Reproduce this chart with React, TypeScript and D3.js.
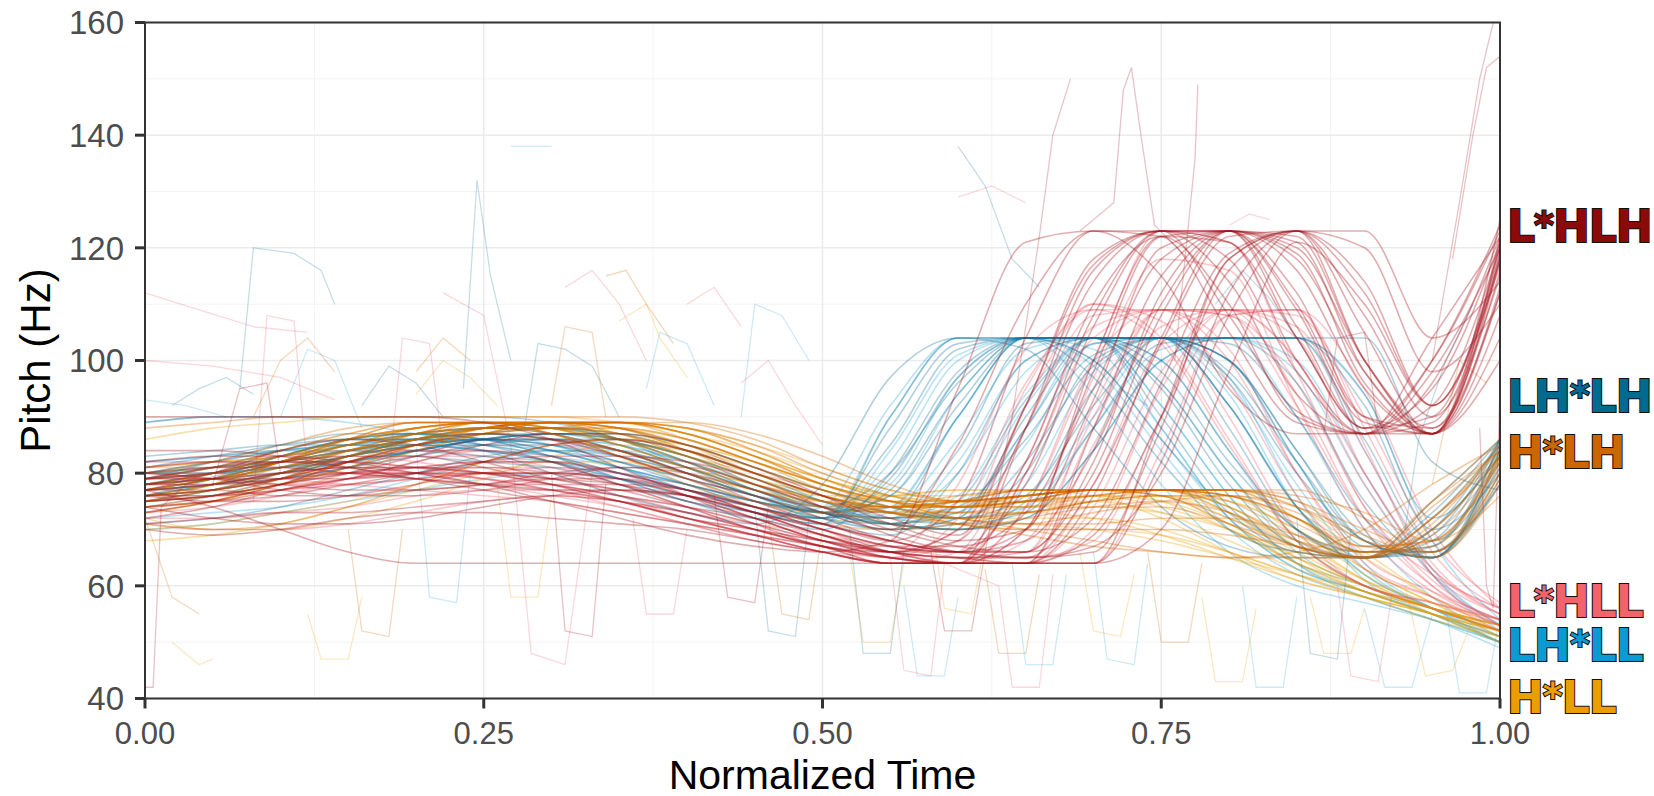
import { useEffect, useRef } from "react"
import * as d3 from "d3"

// normalized time grid shared by all contours
const timeGrid = [0, 0.05, 0.1, 0.15, 0.2, 0.25, 0.3, 0.35, 0.4, 0.45, 0.5, 0.55, 0.6, 0.65, 0.7, 0.75, 0.8, 0.85, 0.9, 0.95, 1]

const yTicks = [40, 60, 80, 100, 120, 140, 160]
const yMinor = [50, 70, 90, 110, 130, 150]
const xTicks = [0, 0.25, 0.5, 0.75, 1]
const xMinor = [0.125, 0.375, 0.625, 0.875]
const xTickLabels = ["0.00", "0.25", "0.50", "0.75", "1.00"]

const labels = ["L*HLH", "LH*LH", "H*LH", "L*HLL", "LH*LL", "H*LL"]

// pitch (Hz) per contour, one value per timeGrid point
const contoursLHLH = [
  [78, 79, 80, 81, 80, 78, 75, 72, 69, 67, 66, 68, 95, 121, 123, 115, 95, 87, 87, 104, 122],
  [76, 77, 79, 82, 84, 84, 82, 78, 74, 70, 67, 66, 70, 92, 118, 123, 121, 104, 88, 95, 121],
  [80, 81, 81, 80, 79, 78, 77, 75, 72, 69, 66, 64, 64, 80, 108, 123, 123, 110, 90, 88, 116],
  [75, 76, 78, 80, 83, 86, 86, 84, 80, 75, 71, 68, 66, 68, 84, 110, 123, 122, 100, 88, 112],
  [77, 77, 76, 76, 77, 78, 80, 81, 80, 77, 73, 70, 85, 110, 123, 122, 105, 89, 87, 98, 120],
  [79, 80, 82, 83, 83, 81, 78, 75, 72, 70, 68, 67, 67, 73, 95, 118, 123, 116, 95, 87, 108],
  [74, 75, 76, 78, 80, 82, 83, 83, 82, 79, 74, 69, 66, 65, 78, 103, 122, 123, 108, 90, 115],
  [78, 79, 79, 79, 80, 82, 85, 86, 84, 80, 76, 72, 69, 92, 117, 123, 114, 94, 87, 89, 118],
  [81, 82, 82, 81, 79, 77, 75, 73, 71, 69, 67, 65, 64, 64, 88, 115, 123, 118, 98, 87, 122],
  [76, 76, 77, 79, 82, 85, 87, 87, 85, 81, 76, 71, 68, 70, 100, 122, 121, 100, 87, 100, 124],
  [77, 78, 80, 81, 81, 80, 78, 76, 74, 72, 69, 66, 65, 64, 64, 70, 98, 121, 110, 92, 118],
  [79, 79, 78, 77, 77, 78, 79, 79, 77, 74, 71, 68, 75, 104, 123, 123, 108, 91, 87, 92, 120],
  [75, 76, 78, 80, 81, 81, 80, 78, 76, 73, 70, 67, 66, 66, 72, 96, 119, 123, 112, 92, 119],
  [78, 78, 79, 80, 81, 82, 82, 80, 77, 73, 69, 66, 68, 88, 114, 123, 123, 104, 88, 100, 123],
  [90, 90, 90, 90, 90, 89, 86, 81, 76, 71, 67, 65, 64, 64, 64, 82, 112, 123, 105, 87, 113],
  [71, 72, 73, 73, 74, 75, 76, 75, 73, 70, 67, 64, 64, 64, 76, 104, 123, 119, 96, 87, 121],
  [73, 75, 78, 82, 85, 87, 86, 83, 79, 76, 72, 68, 66, 65, 66, 88, 118, 123, 114, 92, 117],
  [80, 79, 77, 76, 76, 77, 79, 81, 81, 78, 74, 70, 67, 66, 82, 112, 123, 120, 100, 87, 104],
  [77, 80, 84, 86, 85, 82, 79, 77, 76, 74, 71, 68, 66, 78, 106, 123, 123, 112, 90, 87, 119],
  [82, 83, 83, 82, 80, 78, 77, 77, 76, 73, 70, 66, 64, 64, 69, 90, 116, 123, 120, 98, 110],
  [76, 75, 75, 76, 78, 80, 80, 79, 76, 72, 68, 65, 64, 88, 116, 123, 118, 98, 87, 87, 125],
  [79, 81, 82, 82, 81, 80, 79, 78, 75, 72, 68, 66, 66, 70, 93, 120, 123, 109, 89, 87, 100],
  [72, 74, 77, 79, 80, 80, 79, 77, 74, 71, 68, 66, 65, 65, 67, 80, 108, 123, 123, 104, 114],
  [84, 84, 83, 81, 79, 78, 78, 78, 77, 74, 70, 67, 66, 82, 110, 122, 110, 90, 87, 96, 122],
  [70, 69, 70, 72, 73, 73, 72, 71, 70, 68, 66, 64, 64, 70, 98, 122, 123, 106, 88, 90, 120],
  [74, 72, 71, 71, 72, 74, 76, 77, 76, 73, 69, 66, 65, 66, 80, 108, 123, 121, 98, 87, 112],
  [77, 74, 70, 66, 64, 64, 64, 64, 64, 64, 64, 64, 64, 64, 64, 90, 118, 123, 100, 87, 118],
]

const contoursLHLL = [
  [77, 78, 79, 80, 80, 79, 77, 74, 71, 68, 66, 65, 64, 80, 104, 109, 108, 92, 72, 62, 56],
  [79, 80, 81, 82, 83, 83, 81, 78, 74, 70, 67, 65, 72, 96, 109, 109, 100, 80, 65, 59, 54],
  [75, 76, 77, 78, 79, 80, 80, 79, 77, 74, 70, 67, 65, 64, 85, 106, 109, 108, 90, 68, 57],
  [80, 80, 79, 78, 77, 76, 75, 73, 71, 69, 67, 65, 64, 64, 70, 95, 109, 104, 80, 63, 55],
  [76, 77, 79, 81, 83, 85, 85, 83, 79, 74, 70, 66, 78, 102, 109, 103, 85, 68, 60, 56, 52],
  [78, 78, 78, 79, 80, 81, 81, 80, 78, 75, 71, 68, 66, 66, 92, 109, 108, 96, 74, 61, 53],
  [77, 78, 80, 81, 81, 80, 78, 75, 72, 69, 66, 64, 64, 74, 100, 109, 109, 100, 78, 62, 55],
  [81, 81, 82, 82, 81, 79, 77, 75, 72, 70, 68, 66, 65, 65, 68, 90, 108, 109, 95, 70, 56],
  [74, 75, 77, 79, 81, 82, 82, 80, 77, 73, 69, 66, 70, 95, 110, 107, 90, 70, 60, 57, 53],
  [79, 79, 80, 80, 80, 79, 78, 76, 74, 71, 68, 66, 64, 70, 97, 118, 116, 92, 70, 59, 54],
  [72, 72, 73, 74, 76, 77, 77, 76, 73, 70, 67, 64, 64, 64, 64, 84, 108, 109, 85, 62, 54],
  [82, 82, 81, 80, 79, 78, 76, 74, 71, 68, 66, 64, 66, 88, 108, 109, 96, 76, 63, 58, 53],
  [73, 74, 76, 79, 82, 84, 83, 80, 76, 72, 68, 65, 64, 64, 78, 103, 109, 109, 88, 66, 56],
  [78, 80, 82, 83, 82, 80, 78, 76, 73, 70, 67, 65, 68, 92, 110, 104, 86, 68, 60, 57, 54],
  [76, 76, 77, 78, 79, 80, 81, 80, 77, 73, 69, 66, 64, 64, 74, 98, 109, 106, 84, 64, 55],
  [80, 79, 78, 78, 79, 80, 80, 79, 76, 72, 68, 65, 64, 74, 100, 123, 121, 98, 74, 60, 53],
  [75, 77, 79, 80, 80, 79, 77, 75, 73, 71, 69, 67, 66, 66, 88, 109, 109, 100, 80, 63, 56],
  [79, 81, 83, 84, 84, 83, 80, 76, 72, 69, 66, 64, 64, 82, 106, 109, 102, 80, 64, 58, 52],
  [71, 70, 70, 71, 73, 75, 76, 75, 72, 69, 66, 64, 64, 68, 90, 109, 109, 94, 72, 60, 54],
]

const contoursLHsLH = [
  [78, 80, 83, 86, 87, 86, 83, 79, 75, 72, 70, 80, 98, 104, 104, 95, 78, 67, 65, 72, 85],
  [76, 78, 80, 82, 84, 86, 87, 86, 83, 78, 73, 70, 72, 90, 104, 104, 100, 82, 67, 66, 80],
  [80, 82, 84, 85, 85, 84, 82, 79, 76, 73, 72, 88, 103, 104, 97, 82, 70, 66, 65, 75, 86],
  [77, 78, 79, 81, 83, 85, 86, 86, 84, 80, 75, 71, 70, 75, 95, 104, 104, 96, 75, 65, 84],
  [79, 81, 84, 86, 86, 84, 80, 76, 73, 71, 78, 97, 104, 102, 88, 74, 67, 65, 65, 70, 83],
  [75, 77, 80, 83, 85, 86, 85, 82, 78, 74, 71, 69, 80, 100, 104, 104, 92, 74, 66, 67, 85],
  [82, 83, 84, 84, 83, 82, 81, 79, 77, 75, 73, 72, 74, 86, 101, 104, 104, 104, 86, 68, 81],
  [78, 79, 81, 83, 85, 86, 85, 83, 80, 76, 73, 85, 102, 104, 100, 86, 73, 66, 65, 68, 86],
  [77, 79, 82, 85, 87, 88, 87, 84, 80, 76, 72, 70, 71, 82, 99, 104, 103, 90, 72, 65, 79],
  [80, 81, 82, 84, 85, 85, 84, 82, 79, 76, 74, 73, 90, 104, 104, 104, 97, 80, 68, 65, 82],
  [76, 77, 79, 81, 84, 86, 87, 87, 85, 81, 77, 74, 72, 76, 92, 104, 104, 104, 94, 72, 84],
  [79, 80, 82, 84, 86, 87, 86, 84, 81, 77, 74, 80, 96, 104, 104, 98, 82, 70, 65, 66, 78],
  [89, 90, 90, 90, 90, 90, 89, 86, 81, 76, 72, 77, 94, 104, 104, 104, 88, 70, 65, 69, 86],
  [74, 76, 79, 83, 86, 88, 88, 86, 82, 77, 73, 71, 75, 93, 104, 104, 100, 84, 69, 65, 84],
  [81, 83, 85, 86, 86, 85, 83, 80, 77, 74, 72, 79, 97, 104, 104, 96, 80, 68, 65, 70, 86],
  [78, 80, 81, 82, 84, 86, 87, 86, 83, 79, 75, 72, 71, 73, 88, 103, 104, 104, 92, 70, 80],
  [76, 79, 83, 86, 87, 86, 84, 81, 78, 75, 73, 76, 92, 104, 104, 104, 92, 74, 65, 67, 85],
  [80, 80, 81, 83, 85, 87, 88, 87, 84, 80, 76, 73, 72, 80, 100, 104, 98, 82, 68, 65, 86],
  [77, 78, 80, 83, 86, 87, 87, 85, 81, 77, 74, 72, 84, 103, 104, 100, 84, 70, 66, 66, 78],
  [83, 84, 85, 85, 84, 83, 82, 80, 78, 75, 73, 71, 70, 72, 84, 100, 104, 104, 104, 82, 77],
  [79, 82, 85, 87, 87, 85, 82, 78, 75, 73, 71, 90, 104, 104, 104, 90, 74, 67, 65, 73, 86],
  [71, 72, 74, 77, 80, 83, 84, 83, 80, 76, 73, 71, 73, 88, 103, 104, 100, 84, 68, 65, 83],
]

const contoursLHsLL = [
  [77, 79, 82, 85, 87, 87, 85, 81, 77, 73, 71, 84, 101, 104, 99, 84, 70, 62, 58, 54, 50],
  [79, 80, 82, 84, 86, 87, 86, 83, 79, 75, 72, 71, 82, 100, 104, 104, 92, 74, 62, 56, 51],
  [76, 78, 80, 83, 85, 86, 86, 85, 82, 78, 74, 71, 70, 78, 98, 104, 104, 98, 78, 62, 53],
  [89, 90, 90, 89, 87, 85, 83, 80, 77, 74, 72, 90, 104, 104, 94, 78, 66, 60, 57, 54, 50],
  [78, 80, 83, 86, 87, 86, 83, 79, 75, 72, 74, 92, 104, 104, 104, 92, 76, 64, 58, 54, 49],
  [75, 76, 78, 81, 84, 86, 87, 86, 83, 79, 75, 72, 76, 94, 104, 100, 84, 68, 60, 56, 52],
  [80, 81, 83, 85, 86, 86, 84, 81, 78, 75, 72, 70, 72, 88, 104, 104, 104, 90, 70, 58, 51],
  [77, 78, 80, 82, 84, 85, 85, 84, 81, 77, 73, 78, 97, 104, 102, 88, 72, 63, 59, 55, 50],
  [79, 81, 83, 84, 85, 84, 82, 79, 76, 73, 71, 73, 86, 102, 104, 104, 96, 78, 63, 56, 52],
  [78, 79, 81, 84, 86, 88, 88, 86, 82, 77, 73, 71, 70, 74, 90, 104, 104, 104, 84, 63, 53],
  [72, 73, 74, 76, 79, 82, 84, 84, 82, 78, 74, 72, 73, 85, 103, 104, 97, 76, 61, 55, 50],
  [76, 78, 81, 84, 86, 87, 86, 84, 80, 76, 73, 74, 90, 104, 104, 96, 80, 66, 60, 56, 52],
  [80, 82, 84, 85, 85, 84, 83, 81, 78, 75, 73, 72, 80, 98, 104, 104, 100, 82, 64, 56, 50],
  [78, 79, 80, 82, 84, 86, 87, 87, 85, 81, 77, 74, 72, 74, 88, 102, 104, 104, 94, 68, 54],
  [82, 83, 84, 85, 86, 86, 84, 81, 77, 74, 72, 82, 100, 104, 104, 88, 72, 63, 59, 55, 51],
  [75, 77, 80, 84, 87, 88, 87, 84, 80, 76, 73, 71, 74, 92, 104, 104, 94, 74, 62, 56, 50],
  [79, 80, 81, 83, 85, 86, 86, 85, 82, 78, 74, 71, 70, 72, 84, 100, 104, 100, 80, 62, 52],
  [77, 79, 82, 85, 86, 86, 85, 82, 79, 76, 73, 76, 94, 104, 100, 86, 72, 64, 60, 56, 53],
  [70, 71, 73, 75, 77, 79, 80, 79, 77, 74, 72, 74, 90, 104, 104, 92, 76, 64, 59, 55, 51],
]

const contoursHLH = [
  [76, 78, 82, 86, 89, 89, 87, 83, 79, 75, 73, 74, 76, 77, 77, 76, 71, 66, 65, 72, 83],
  [78, 80, 83, 86, 88, 89, 89, 88, 85, 80, 76, 74, 75, 77, 77, 77, 74, 68, 65, 69, 82],
  [75, 76, 78, 81, 85, 88, 89, 89, 87, 83, 78, 75, 74, 75, 77, 77, 77, 72, 66, 66, 80],
  [77, 79, 82, 85, 87, 88, 87, 84, 80, 76, 73, 72, 74, 76, 77, 77, 75, 69, 65, 74, 84],
  [79, 80, 82, 84, 86, 88, 89, 89, 88, 85, 80, 76, 74, 74, 76, 77, 77, 77, 72, 66, 79],
  [74, 76, 79, 83, 87, 89, 89, 87, 83, 78, 74, 71, 70, 72, 74, 75, 73, 68, 66, 75, 84],
  [76, 77, 79, 82, 85, 87, 88, 88, 86, 82, 78, 75, 73, 73, 75, 76, 76, 73, 67, 68, 82],
  [78, 80, 83, 86, 88, 89, 88, 85, 81, 77, 74, 73, 75, 77, 77, 76, 72, 67, 65, 71, 85],
  [77, 78, 80, 83, 86, 88, 89, 89, 86, 82, 77, 73, 71, 71, 73, 75, 76, 74, 69, 65, 78],
  [75, 77, 80, 84, 87, 89, 89, 88, 85, 81, 77, 75, 75, 76, 77, 77, 76, 71, 66, 70, 83],
  [77, 79, 81, 84, 86, 87, 86, 84, 81, 78, 75, 73, 71, 69, 67, 66, 65, 65, 65, 72, 84],
  [79, 81, 84, 87, 89, 89, 88, 86, 83, 80, 77, 74, 72, 70, 68, 66, 65, 66, 70, 78, 85],
  [88, 89, 90, 90, 90, 90, 90, 90, 89, 86, 81, 77, 75, 76, 77, 77, 77, 75, 68, 66, 83],
  [73, 75, 78, 82, 86, 89, 89, 88, 84, 79, 75, 73, 73, 75, 77, 77, 77, 75, 70, 66, 81],
  [80, 82, 85, 88, 89, 89, 87, 84, 80, 77, 74, 74, 75, 76, 77, 77, 73, 67, 65, 75, 86],
  [76, 77, 79, 82, 85, 87, 89, 89, 88, 84, 79, 75, 72, 71, 71, 72, 72, 69, 66, 68, 82],
  [78, 79, 81, 83, 85, 87, 88, 89, 89, 87, 83, 78, 75, 75, 76, 77, 77, 76, 73, 68, 76],
  [75, 78, 82, 86, 89, 89, 87, 83, 78, 74, 71, 70, 71, 73, 74, 74, 71, 67, 65, 72, 85],
  [81, 82, 83, 85, 87, 88, 88, 87, 84, 80, 76, 73, 72, 73, 75, 77, 77, 74, 68, 65, 80],
  [77, 79, 82, 85, 88, 89, 89, 86, 82, 78, 75, 74, 75, 76, 77, 77, 76, 72, 66, 67, 84],
  [74, 75, 77, 80, 84, 87, 89, 89, 87, 83, 78, 74, 71, 70, 70, 70, 69, 67, 65, 70, 83],
  [71, 70, 71, 74, 78, 82, 85, 86, 84, 80, 76, 74, 74, 75, 77, 77, 76, 72, 67, 68, 83],
]

const contoursHLL = [
  [77, 79, 82, 86, 88, 89, 88, 85, 81, 77, 75, 76, 77, 77, 76, 72, 66, 61, 58, 55, 52],
  [75, 77, 80, 83, 86, 88, 89, 88, 85, 81, 77, 74, 74, 76, 77, 77, 74, 67, 60, 56, 53],
  [78, 79, 81, 84, 87, 89, 89, 89, 87, 83, 79, 76, 75, 76, 77, 77, 77, 72, 63, 57, 51],
  [76, 78, 82, 85, 88, 89, 87, 83, 79, 75, 72, 71, 72, 73, 72, 69, 65, 61, 58, 55, 52],
  [79, 80, 82, 84, 86, 88, 89, 88, 86, 82, 78, 75, 74, 75, 76, 74, 70, 64, 59, 55, 50],
  [74, 75, 78, 81, 85, 88, 89, 89, 88, 84, 79, 75, 72, 71, 70, 68, 65, 62, 59, 56, 53],
  [77, 78, 80, 83, 86, 88, 88, 87, 84, 80, 76, 74, 75, 77, 77, 77, 75, 70, 62, 56, 52],
  [78, 80, 83, 86, 88, 89, 89, 86, 82, 78, 75, 73, 72, 72, 72, 70, 66, 62, 58, 54, 51],
  [76, 77, 79, 82, 85, 88, 89, 89, 87, 83, 79, 76, 76, 77, 77, 76, 71, 64, 59, 55, 52],
  [80, 81, 83, 85, 87, 88, 88, 86, 83, 79, 76, 74, 74, 75, 75, 73, 68, 63, 59, 56, 53],
  [70, 71, 73, 75, 78, 82, 85, 86, 85, 82, 78, 75, 74, 75, 77, 77, 73, 65, 59, 55, 51],
  [86, 88, 89, 90, 90, 90, 90, 89, 87, 83, 79, 76, 75, 76, 77, 77, 76, 69, 61, 56, 52],
  [79, 81, 84, 87, 89, 89, 88, 85, 81, 78, 76, 76, 77, 77, 77, 75, 70, 64, 60, 56, 52],
  [75, 76, 78, 81, 84, 87, 89, 89, 87, 84, 80, 76, 74, 74, 75, 76, 75, 70, 63, 57, 52],
  [77, 79, 82, 85, 88, 89, 88, 86, 83, 79, 76, 73, 71, 70, 70, 69, 66, 62, 58, 55, 51],
  [81, 82, 83, 85, 87, 88, 88, 88, 86, 82, 78, 75, 74, 75, 76, 77, 76, 72, 65, 58, 53],
  [73, 75, 79, 83, 86, 88, 89, 88, 84, 80, 76, 74, 74, 76, 77, 77, 77, 74, 66, 58, 52],
  [78, 79, 81, 83, 86, 88, 89, 89, 88, 85, 81, 77, 75, 74, 74, 73, 70, 65, 60, 56, 52],
  [76, 78, 81, 84, 87, 89, 89, 87, 83, 79, 75, 73, 72, 73, 75, 76, 73, 67, 61, 57, 54],
  [80, 81, 82, 84, 86, 87, 88, 87, 85, 82, 78, 75, 75, 76, 77, 77, 74, 68, 61, 55, 50],
  [72, 70, 70, 72, 75, 79, 83, 85, 84, 81, 77, 74, 73, 74, 76, 76, 72, 66, 60, 56, 52],
  [68, 69, 71, 74, 77, 80, 82, 82, 80, 77, 75, 74, 74, 75, 76, 75, 71, 65, 60, 56, 53],
]

// irregular tracking fragments: [time, pitch] pairs
const noiseLHLH = [
  [[0.62, 66], [0.64, 90], [0.66, 122], [0.67, 140], [0.683, 150]],
  [[0.69, 123], [0.715, 128], [0.722, 148], [0.728, 152], [0.735, 140], [0.745, 124], [0.77, 118]],
  [[0.76, 100], [0.77, 124], [0.775, 136], [0.777, 149]],
  [[0.95, 100], [0.97, 128], [0.985, 150], [0.995, 160]],
  [[0.965, 118], [0.98, 140], [0.99, 152], [1.0, 154]],
  [[0.0, 42], [0.006, 42], [0.012, 74], [0.03, 78], [0.06, 80]],
  [[0.3, 80], [0.31, 52], [0.33, 51], [0.34, 78]],
  [[0.985, 88], [0.99, 60], [0.995, 56], [1.0, 95]],
  [[0.05, 78], [0.07, 95], [0.09, 96], [0.1, 80]],
  [[0.42, 76], [0.43, 58], [0.45, 57], [0.46, 74]],
  [[0.58, 66], [0.59, 52], [0.61, 52], [0.62, 66]],
  [[0.87, 87], [0.88, 104], [0.9, 105], [0.91, 88]],
]

const noiseLHLL = [
  [[0.0, 112], [0.04, 109], [0.08, 106], [0.12, 105]],
  [[0.0, 100], [0.05, 99], [0.1, 97], [0.14, 93]],
  [[0.6, 129], [0.625, 131], [0.65, 128]],
  [[0.22, 112], [0.25, 108], [0.27, 85], [0.285, 48], [0.31, 46], [0.33, 80]],
  [[0.8, 124], [0.815, 126], [0.83, 125]],
  [[0.55, 65], [0.56, 45], [0.58, 44], [0.59, 64], [0.63, 60], [0.64, 42], [0.66, 42], [0.67, 62]],
  [[0.31, 113], [0.33, 116], [0.35, 110], [0.37, 100]],
  [[0.44, 96], [0.46, 100], [0.48, 92], [0.5, 85]],
  [[0.08, 75], [0.09, 108], [0.11, 107], [0.12, 80]],
  [[0.18, 80], [0.19, 104], [0.21, 103], [0.22, 84]],
  [[0.36, 72], [0.37, 55], [0.39, 55], [0.4, 70]],
  [[0.88, 60], [0.89, 44], [0.91, 43], [0.92, 58]],
  [[0.4, 110], [0.42, 113], [0.44, 106]],
]

const noiseLHsLH = [
  [[0.07, 95], [0.08, 120], [0.11, 119], [0.13, 116], [0.14, 110]],
  [[0.235, 95], [0.245, 132], [0.255, 115], [0.27, 100]],
  [[0.6, 138], [0.62, 131], [0.64, 118], [0.66, 113]],
  [[0.79, 110], [0.81, 116], [0.83, 111], [0.85, 104], [0.87, 96]],
  [[0.85, 72], [0.86, 48], [0.88, 47], [0.89, 70]],
  [[0.45, 74], [0.46, 52], [0.48, 51], [0.49, 72]],
  [[0.16, 92], [0.18, 99], [0.2, 96], [0.22, 90]],
  [[0.02, 92], [0.04, 95], [0.06, 97], [0.08, 94]],
  [[0.28, 88], [0.29, 103], [0.31, 102], [0.33, 99], [0.35, 90]],
  [[0.52, 70], [0.53, 48], [0.55, 48], [0.56, 66]],
  [[0.7, 84], [0.72, 95], [0.74, 92]],
  [[0.93, 70], [0.94, 86], [0.96, 100], [0.98, 110]],
]

const noiseLHsLL = [
  [[0.27, 138], [0.3, 138]],
  [[0.1, 90], [0.12, 102], [0.14, 100], [0.16, 88]],
  [[0.56, 60], [0.57, 44], [0.59, 44], [0.6, 58]],
  [[0.9, 56], [0.915, 42], [0.935, 42], [0.95, 55]],
  [[0.37, 95], [0.38, 105], [0.4, 103], [0.42, 92]],
  [[0.7, 66], [0.71, 47], [0.73, 46], [0.74, 64]],
  [[0.0, 93], [0.03, 92], [0.06, 90]],
  [[0.2, 85], [0.21, 58], [0.23, 57], [0.24, 80]],
  [[0.44, 90], [0.45, 110], [0.47, 108], [0.49, 100]],
  [[0.64, 64], [0.65, 46], [0.67, 46], [0.68, 62]],
  [[0.81, 60], [0.82, 42], [0.84, 42], [0.85, 58]],
  [[0.96, 56], [0.97, 41], [0.99, 41], [1.0, 55]],
]

const noiseHLH = [
  [[0.34, 115], [0.355, 116], [0.37, 110], [0.39, 103]],
  [[0.15, 70], [0.16, 52], [0.18, 51], [0.19, 70]],
  [[0.62, 63], [0.63, 48], [0.65, 48], [0.66, 62]],
  [[0.2, 98], [0.22, 104], [0.24, 100]],
  [[0.0, 72], [0.02, 58], [0.04, 55]],
  [[0.08, 90], [0.1, 100], [0.12, 104], [0.14, 98]],
  [[0.3, 92], [0.31, 106], [0.33, 105], [0.34, 90]],
  [[0.46, 72], [0.47, 55], [0.49, 54], [0.5, 70]],
  [[0.74, 66], [0.75, 50], [0.77, 50], [0.78, 64]],
  [[0.95, 78], [0.97, 100], [0.99, 96]],
]

const noiseHLL = [
  [[0.12, 55], [0.13, 47], [0.15, 47], [0.16, 58]],
  [[0.35, 107], [0.37, 110], [0.38, 104], [0.4, 97]],
  [[0.78, 58], [0.79, 43], [0.81, 43], [0.82, 56]],
  [[0.93, 60], [0.945, 44], [0.965, 45], [0.98, 54]],
  [[0.02, 50], [0.04, 46], [0.05, 47]],
  [[0.52, 66], [0.53, 50], [0.55, 50], [0.56, 64]],
  [[0.26, 78], [0.27, 58], [0.29, 58], [0.3, 76]],
  [[0.58, 72], [0.59, 56], [0.61, 55], [0.62, 68]],
  [[0.69, 66], [0.7, 52], [0.72, 51], [0.73, 62]],
  [[0.2, 94], [0.22, 100], [0.24, 97], [0.26, 92]],
  [[0.86, 58], [0.87, 48], [0.89, 48], [0.9, 56]],
]

// styling (draw order: bottom first)
const groups = [
  { contours: contoursLHsLL, noise: noiseLHsLL, color: "#1fa3d8", opacity: 0.3 },
  { contours: contoursHLL, noise: noiseHLL, color: "#eaa000", opacity: 0.32 },
  { contours: contoursLHLL, noise: noiseLHLL, color: "#e9505c", opacity: 0.3 },
  { contours: contoursLHsLH, noise: noiseLHsLH, color: "#137096", opacity: 0.32 },
  { contours: contoursHLH, noise: noiseHLH, color: "#d26a00", opacity: 0.34 },
  { contours: contoursLHLH, noise: noiseLHLH, color: "#a3121a", opacity: 0.34 },
]

const labelStyle = [
  { color: "#8c0a0a", y: 242 },
  { color: "#006b8f", y: 412 },
  { color: "#cc6600", y: 468 },
  { color: "#f2636b", y: 617 },
  { color: "#0a9bd3", y: 661 },
  { color: "#eb9e00", y: 713 },
]

export default function App() {
  const svgRef = useRef<SVGSVGElement>(null)

  useEffect(() => {
    if (!svgRef.current) return
    const width = 1654
    const height = 796
    const plot = { left: 145, right: 1500, top: 22.5, bottom: 698.5 }

    d3.select(svgRef.current).selectAll("*").remove()
    const svg = d3.select(svgRef.current).attr("width", width).attr("height", height)

    const x = d3.scaleLinear().domain([0, 1]).range([plot.left, plot.right])
    const y = d3.scaleLinear().domain([40, 160]).range([plot.bottom, plot.top])

    svg.append("rect").attr("width", width).attr("height", height).attr("fill", "#fff")

    // grid
    const grid = svg.append("g")
    grid.selectAll("line.ymin").data(yMinor).join("line")
      .attr("x1", plot.left).attr("x2", plot.right)
      .attr("y1", (d) => y(d)).attr("y2", (d) => y(d))
      .attr("stroke", "#f3f3f3").attr("stroke-width", 1)
    grid.selectAll("line.xmin").data(xMinor).join("line")
      .attr("y1", plot.top).attr("y2", plot.bottom)
      .attr("x1", (d) => x(d)).attr("x2", (d) => x(d))
      .attr("stroke", "#f3f3f3").attr("stroke-width", 1)
    grid.selectAll("line.ymaj").data(yTicks).join("line")
      .attr("x1", plot.left).attr("x2", plot.right)
      .attr("y1", (d) => y(d)).attr("y2", (d) => y(d))
      .attr("stroke", "#ebebeb").attr("stroke-width", 1.5)
    grid.selectAll("line.xmaj").data(xTicks).join("line")
      .attr("y1", plot.top).attr("y2", plot.bottom)
      .attr("x1", (d) => x(d)).attr("x2", (d) => x(d))
      .attr("stroke", "#ebebeb").attr("stroke-width", 1.5)

    svg.append("clipPath").attr("id", "panel").append("rect")
      .attr("x", plot.left).attr("y", plot.top)
      .attr("width", plot.right - plot.left).attr("height", plot.bottom - plot.top)

    const smooth = d3.line<number>()
      .x((_, i) => x(timeGrid[i]))
      .y((d) => y(d))
      .curve(d3.curveMonotoneX)
    const jagged = d3.line<number[]>()
      .x((d) => x(d[0]))
      .y((d) => y(d[1]))

    const lines = svg.append("g").attr("clip-path", "url(#panel)")
    groups.forEach((g) => {
      lines.append("g").selectAll("path").data(g.noise).join("path")
        .attr("d", (d) => jagged(d as number[][]))
        .attr("fill", "none").attr("stroke", g.color)
        .attr("stroke-opacity", g.opacity * 0.75).attr("stroke-width", 1.3)
      lines.append("g").selectAll("path").data(g.contours).join("path")
        .attr("d", (d) => smooth(d))
        .attr("fill", "none").attr("stroke", g.color)
        .attr("stroke-opacity", g.opacity).attr("stroke-width", 1.6)
    })

    // panel border
    svg.append("rect")
      .attr("x", plot.left).attr("y", plot.top)
      .attr("width", plot.right - plot.left).attr("height", plot.bottom - plot.top)
      .attr("fill", "none").attr("stroke", "#333").attr("stroke-width", 2)

    const font = "'Liberation Sans', Arial, Helvetica, sans-serif"

    // y axis
    const yAxis = svg.append("g")
    yAxis.selectAll("line").data(yTicks).join("line")
      .attr("x1", plot.left - 10).attr("x2", plot.left)
      .attr("y1", (d) => y(d)).attr("y2", (d) => y(d))
      .attr("stroke", "#333").attr("stroke-width", 3)
    yAxis.selectAll("text").data(yTicks).join("text")
      .attr("x", 124).attr("y", (d) => y(d)).attr("dy", "0.36em")
      .attr("text-anchor", "end").attr("font-family", font).attr("font-size", 33)
      .attr("fill", "#4d4d4d").text((d) => String(d))

    // x axis
    const xAxis = svg.append("g")
    xAxis.selectAll("line").data(xTicks).join("line")
      .attr("x1", (d) => x(d)).attr("x2", (d) => x(d))
      .attr("y1", plot.bottom).attr("y2", plot.bottom + 10)
      .attr("stroke", "#333").attr("stroke-width", 3)
    xAxis.selectAll("text").data(xTicks).join("text")
      .attr("x", (d) => x(d)).attr("y", 744)
      .attr("text-anchor", "middle").attr("font-family", font).attr("font-size", 31)
      .attr("fill", "#4d4d4d").text((_, i) => xTickLabels[i])

    svg.append("text")
      .attr("x", (plot.left + plot.right) / 2).attr("y", 789)
      .attr("text-anchor", "middle").attr("font-family", font).attr("font-size", 41)
      .attr("fill", "#000").text("Normalized Time")

    svg.append("text")
      .attr("transform", `translate(50,${(plot.top + plot.bottom) / 2}) rotate(-90)`)
      .attr("text-anchor", "middle").attr("font-family", font).attr("font-size", 42)
      .attr("fill", "#000").text("Pitch (Hz)")

    // right-hand category labels
    labels.forEach((lab, i) => {
      const [pre, post] = lab.split("*")
      const t = svg.append("text")
        .attr("x", 1507).attr("y", labelStyle[i].y)
        .attr("font-family", "'DejaVu Sans', Verdana, sans-serif")
        .attr("font-weight", "bold").attr("font-size", 44)
        .attr("letter-spacing", -1)
        .attr("fill", labelStyle[i].color)
        .attr("stroke", "#111").attr("stroke-width", 2)
        .attr("paint-order", "stroke")
      t.append("tspan").text(pre)
      t.append("tspan").attr("font-size", 38).attr("dy", -4).text("*")
      t.append("tspan").attr("dy", 4).text(post)
    })
  }, [])

  return (
    <div style={{ position: "absolute", left: 0, top: 0 }}>
      <svg ref={svgRef} style={{ display: "block" }} />
    </div>
  )
}
